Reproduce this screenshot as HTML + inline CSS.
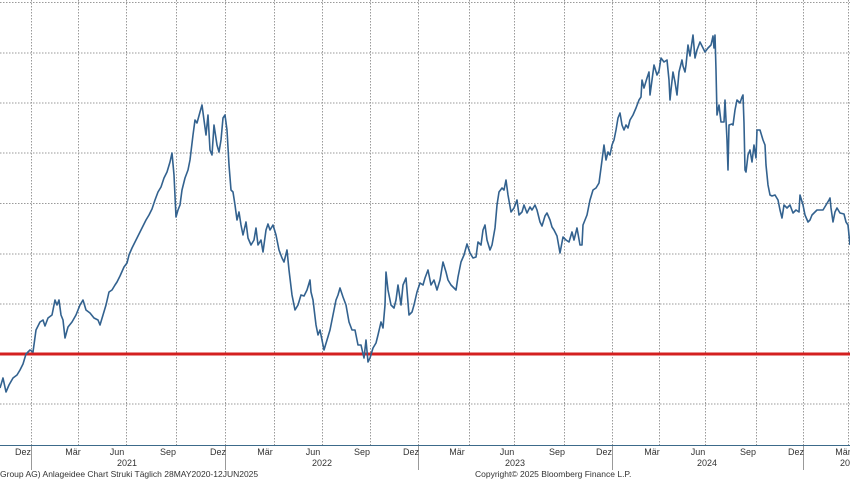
<!DOCTYPE html>
<html><head><meta charset="utf-8"><style>
html,body{margin:0;padding:0;background:#fff;}
svg{display:block;font-family:"Liberation Sans",sans-serif;}
</style></head><body>
<svg width="850" height="480" viewBox="0 0 850 480" xmlns="http://www.w3.org/2000/svg">
<rect width="850" height="480" fill="#fff"/>
<g stroke="#9a9a9a" stroke-width="1" stroke-dasharray="1.5,1.5" fill="none">
<line x1="0" y1="2.5" x2="850" y2="2.5"/>
<line x1="0" y1="53" x2="850" y2="53"/>
<line x1="0" y1="103" x2="850" y2="103"/>
<line x1="0" y1="153" x2="850" y2="153"/>
<line x1="0" y1="203.5" x2="850" y2="203.5"/>
<line x1="0" y1="254" x2="850" y2="254"/>
<line x1="0" y1="304" x2="850" y2="304"/>
<line x1="0" y1="404" x2="850" y2="404"/>
<line x1="31.5" y1="0" x2="31.5" y2="445"/>
<line x1="78.5" y1="0" x2="78.5" y2="445"/>
<line x1="126.5" y1="0" x2="126.5" y2="445"/>
<line x1="176.5" y1="0" x2="176.5" y2="445"/>
<line x1="225.5" y1="0" x2="225.5" y2="445"/>
<line x1="274.5" y1="0" x2="274.5" y2="445"/>
<line x1="322.5" y1="0" x2="322.5" y2="445"/>
<line x1="370.5" y1="0" x2="370.5" y2="445"/>
<line x1="418.5" y1="0" x2="418.5" y2="445"/>
<line x1="469.5" y1="0" x2="469.5" y2="445"/>
<line x1="514.5" y1="0" x2="514.5" y2="445"/>
<line x1="564.5" y1="0" x2="564.5" y2="445"/>
<line x1="612.5" y1="0" x2="612.5" y2="445"/>
<line x1="659.5" y1="0" x2="659.5" y2="445"/>
<line x1="705.5" y1="0" x2="705.5" y2="445"/>
<line x1="756.5" y1="0" x2="756.5" y2="445"/>
<line x1="803.5" y1="0" x2="803.5" y2="445"/>
<line x1="848.5" y1="0" x2="848.5" y2="445"/>
</g>
<line x1="0" y1="445.5" x2="850" y2="445.5" stroke="#3c6a8a" stroke-width="1"/>
<g stroke="#999" stroke-width="1">
<line x1="31.5" y1="446" x2="31.5" y2="470"/>
<line x1="225.5" y1="446" x2="225.5" y2="470"/>
<line x1="418.5" y1="446" x2="418.5" y2="470"/>
<line x1="612.5" y1="446" x2="612.5" y2="470"/>
<line x1="803.5" y1="446" x2="803.5" y2="470"/>
</g>
<line x1="0" y1="354" x2="850" y2="354" stroke="#d42020" stroke-width="3"/>
<polyline fill="none" stroke="#33628f" stroke-width="1.6" stroke-linejoin="round" points="0,388 3,378 6,392 9,385 13,378 17,375 20,370 23,364 26,354 30,350 33,352 36,330 40,322 43,320 45,326 48,318 52,315 55,300 57,305 59,300 61,315 63,320 65,338 68,327 72,322 76,315 80,305 83,300 86,310 90,313 94,318 98,320 100,325 103,315 106,305 109,292 112,290 115,285 117,282 120,276 124,267 127,263 129,255 132,248 135,242 138,236 142,228 146,220 149,215 152,209 155,200 158,192 161,187 164,178 167,172 170,162 172,153 174,175 176,217 178,210 180,205 182,190 185,178 188,170 190,160 193,135 195,120 197,123 200,112 202,105 204,120 206,135 208,115 210,150 212,155 214,125 217,145 219,152 221,140 223,118 225,115 227,130 229,165 231,190 233,192 235,205 237,220 239,212 241,225 243,235 246,222 248,238 251,245 254,240 256,228 258,245 261,240 263,252 266,230 268,224 270,230 273,225 276,235 279,250 282,258 284,262 287,250 289,270 292,295 295,310 298,305 301,295 304,296 307,290 310,280 311,292 313,300 316,325 318,335 320,330 323,345 324,350 327,340 330,330 333,315 336,300 338,295 340,288 343,297 346,305 349,322 352,330 355,330 358,345 361,345 364,358 366,340 368,362 370,358 373,348 376,343 378,335 381,322 383,328 385,305 386,272 388,290 391,305 394,308 396,300 398,285 401,305 403,285 406,278 409,315 412,312 414,305 417,292 420,283 423,285 425,278 428,270 431,285 434,280 437,290 440,280 443,262 446,272 448,280 451,285 454,288 456,290 458,277 461,262 464,255 467,244 470,253 473,258 476,257 478,242 481,245 483,230 485,225 487,240 490,250 492,245 495,228 497,205 499,192 502,188 504,190 506,180 508,195 511,212 514,208 517,200 519,215 522,212 524,205 527,213 530,207 532,210 535,205 537,210 540,222 542,226 545,216 547,213 550,220 552,227 554,230 557,236 560,253 563,237 566,240 569,242 572,232 574,240 577,228 580,245 582,245 583,225 587,215 590,200 593,190 596,188 599,183 601,168 604,145 606,160 608,152 610,155 612,145 614,140 616,130 618,118 620,113 622,125 624,130 626,125 628,128 630,120 633,115 636,108 639,100 641,97 642,80 644,88 647,78 649,72 650,95 652,80 654,65 657,75 659,71 661,58 664,62 667,60 669,80 670,100 671,90 673,72 675,82 677,95 679,72 682,60 683,66 685,72 686,65 688,45 690,56 693,35 695,58 697,50 700,42 703,48 705,52 708,48 711,45 713,36 714,48 715,35 716,70 717,115 719,105 721,122 724,122 725,100 727,140 728,170 729,125 732,124 733,125 735,110 737,100 740,103 742,97 743,95 744,123 745,170 746,172 748,155 750,150 752,162 754,145 756,158 757,130 760,130 763,140 765,145 766,165 768,185 770,195 772,196 775,195 778,200 780,210 782,218 784,205 787,208 790,205 793,213 796,210 799,212 800,195 803,205 805,215 808,222 810,220 812,215 815,212 817,210 820,210 823,210 826,205 829,200 830,198 831,208 833,222 835,212 837,208 840,213 844,214 846,222 848,225 850,245"/>
<g font-size="9" fill="#333" text-anchor="middle">
<text x="23" y="455">Dez</text>
<text x="73" y="455">Mär</text>
<text x="117" y="455">Jun</text>
<text x="168" y="455">Sep</text>
<text x="218" y="455">Dez</text>
<text x="265" y="455">Mär</text>
<text x="313" y="455">Jun</text>
<text x="362" y="455">Sep</text>
<text x="411" y="455">Dez</text>
<text x="457" y="455">Mär</text>
<text x="507" y="455">Jun</text>
<text x="557" y="455">Sep</text>
<text x="604" y="455">Dez</text>
<text x="652" y="455">Mär</text>
<text x="698" y="455">Jun</text>
<text x="748" y="455">Sep</text>
<text x="796" y="455">Dez</text>
<text x="843" y="455">Mär</text>
<text x="127" y="466">2021</text>
<text x="322" y="466">2022</text>
<text x="515" y="466">2023</text>
<text x="707" y="466">2024</text>
<text x="850" y="466">2025</text>
</g>
<g font-size="8.5" fill="#333">
<text x="0" y="477">Group AG) Anlageidee Chart Struki  Täglich 28MAY2020-12JUN2025</text>
<text x="475" y="477">Copyright© 2025 Bloomberg Finance L.P.</text>
</g>
</svg>
</body></html>
